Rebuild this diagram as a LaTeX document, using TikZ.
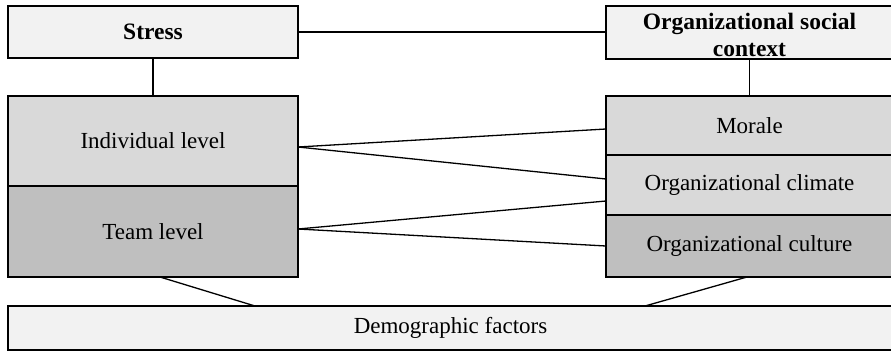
\documentclass[tikz,border=0pt]{standalone}
\usepackage{fontspec}
\setmainfont{Liberation Serif}
\definecolor{pale}{HTML}{F2F2F2}
\definecolor{mid}{HTML}{D9D9D9}
\definecolor{dark}{HTML}{BFBFBF}
\begin{document}
\begin{tikzpicture}[x=1pt,y=-1pt,
  box/.style={draw=black,line width=1.3pt,inner sep=0pt,outer sep=0pt,align=center,font=\fontsize{23}{25}\selectfont},
  hbox/.style={box,font=\bfseries\fontsize{23.5}{26.5}\selectfont},
  link/.style={line width=1.3pt}]
\useasboundingbox (0,0) rectangle (891,351);
\fill[white] (0,0) rectangle (891,351);
\node[hbox,fill=pale,minimum width=290pt,minimum height=52pt] (stress) at (153,32) {Stress};
\node[hbox,fill=pale,minimum width=287pt,minimum height=53pt,text height=47pt,text depth=0pt] (org) at (749.5,32.5) {Organizational social\\context};
\node[box,fill=mid,minimum width=290pt,minimum height=90pt] (indiv) at (153,141) {Individual level};
\node[box,fill=dark,minimum width=290pt,minimum height=91pt] (team) at (153,231.5) {Team level};
\node[box,fill=mid,minimum width=287pt,minimum height=59pt] (morale) at (749.5,125.5) {Morale};
\node[box,fill=mid,minimum width=287pt,minimum height=60pt] (climate) at (749.5,185) {Organizational climate};
\node[box,fill=dark,minimum width=287pt,minimum height=62pt] (culture) at (749.5,246) {Organizational culture};
\node[box,fill=pale,minimum width=885pt,minimum height=44pt] (demo) at (450.5,328) {Demographic factors};
\draw[link] (stress.east) -- (stress.east -| org.west);
\draw[link] (stress.south) -- (indiv.north);
\draw[link] (org.south) -- (morale.north);
\draw[link] ([yshift=-6pt]indiv.east) -- ([yshift=-3.5pt]morale.west);
\draw[link] ([yshift=-6pt]indiv.east) -- ([yshift=6pt]climate.west);
\draw[link] ([yshift=2.5pt]team.east) -- ([yshift=-16pt]climate.west);
\draw[link] ([yshift=2.5pt]team.east) -- (culture.west);
\draw[link] ([xshift=7pt]team.south) -- ([xshift=-195.5pt]demo.north);
\draw[link] ([xshift=-2.5pt]culture.south) -- ([xshift=194.5pt]demo.north);
\end{tikzpicture}
\end{document}
